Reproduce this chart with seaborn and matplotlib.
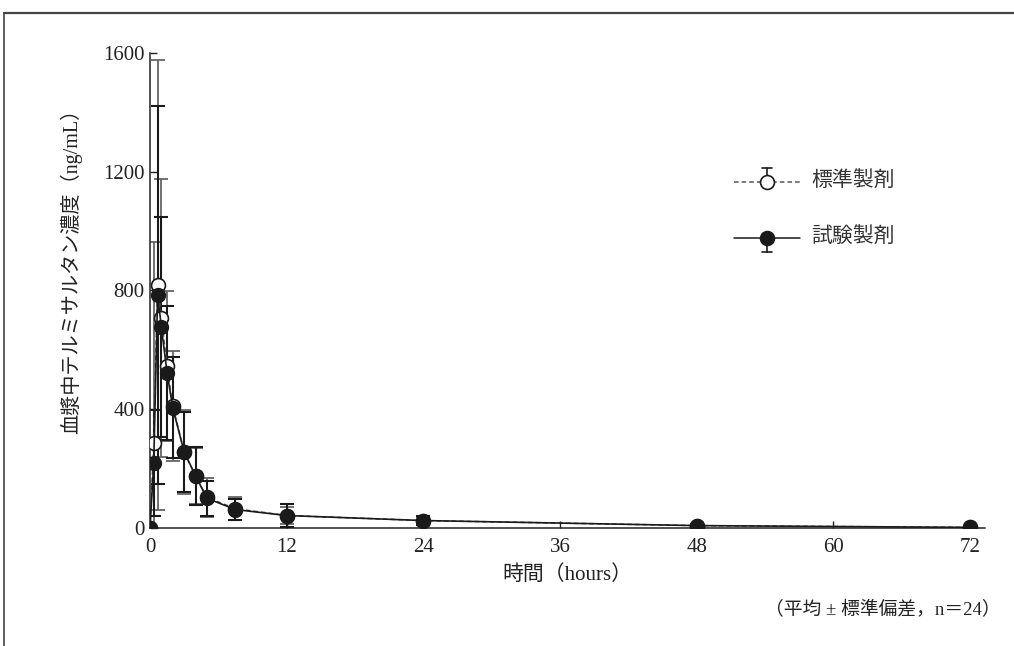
import numpy as np
import pandas as pd
import seaborn as sns
import matplotlib
matplotlib.use("Agg")
import matplotlib.pyplot as plt
from matplotlib.lines import Line2D

# ---- data ----
time_h = [0, 0.33, 0.67, 1, 1.5, 2, 3, 4, 5, 7.5, 12, 24, 48, 72]
ref_mean = [0, 286, 818, 707, 545, 410, 256, 176, 103, 65, 42, 25, 8, 2]
ref_sd = [0, 676, 758, 467, 253, 186, 140, 95, 65, 38, 27, 12, 5, 2]
test_mean = [0, 219, 785, 677, 523, 405, 256, 176, 100, 62, 42, 25, 8, 2]
test_sd = [0, 180, 636, 371, 225, 170, 135, 97, 58, 34, 40, 15, 6, 2]
ref_label = "標準製剤"
test_label = "試験製剤"
x_ticks = [0, 12, 24, 36, 48, 60, 72]
y_ticks = [0, 400, 800, 1200, 1600]

sns.set_theme(style="ticks")
plt.rcParams["font.family"] = ["Liberation Serif", "Noto Sans CJK JP"]
plt.rcParams["axes.unicode_minus"] = False

fig = plt.figure(figsize=(10.14, 6.46), dpi=100)
ax = fig.add_axes([0.1479, 0.1827, 0.8235, 0.7353])

# error bars
ax.errorbar(time_h, ref_mean, yerr=ref_sd, fmt="none", ecolor="#666666",
            elinewidth=1.3, capsize=5, capthick=1.3, zorder=2)
ax.errorbar(time_h, test_mean, yerr=test_sd, fmt="none", ecolor="#1a1a1a",
            elinewidth=1.5, capsize=5, capthick=1.5, zorder=3)

# lines + markers
sns.lineplot(x=time_h, y=ref_mean, ax=ax, color="#555555", linestyle=(0, (3, 2)),
             linewidth=1.1, marker="o", markersize=10, markerfacecolor="white",
             markeredgecolor="#1a1a1a", markeredgewidth=1.2, zorder=4, legend=False)
sns.lineplot(x=time_h, y=test_mean, ax=ax, color="#1a1a1a", linestyle="-",
             linewidth=1.2, marker="o", markersize=10, markerfacecolor="#1a1a1a",
             markeredgecolor="#1a1a1a", markeredgewidth=1.0, zorder=5, legend=False)

ax.set_xlim(0, 73.3)
ax.set_ylim(0, 1600)
ax.set_xticks(x_ticks)
ax.set_yticks(y_ticks)
ax.tick_params(direction="in", length=5, width=1, labelsize=15, colors="#222222")
ax.tick_params(axis="x", pad=7)
ax.tick_params(axis="y", pad=4)
for s in ["top", "right"]:
    ax.spines[s].set_visible(False)
for s in ["left", "bottom"]:
    ax.spines[s].set_color("#222222")
    ax.spines[s].set_linewidth(1.1)

ax.set_xlabel("時間（hours）", fontsize=15, labelpad=6, color="#222222")
ax.set_ylabel("血漿中テルミサルタン濃度（ng/mL）", fontsize=14.5, color="#222222")
ax.yaxis.set_label_coords(-0.081, 0.55)

# legend (manual)
tr = ax.transAxes
for (ymid, face, ls, col, cap_dir, lab) in [
        (0.728, "white", (0, (3, 2)), "#555555", 1, ref_label),
        (0.611, "#1a1a1a", "-", "#1a1a1a", -1, test_label)]:
    ax.add_line(Line2D([0.70, 0.778], [ymid, ymid], transform=tr, color=col,
                       linestyle=ls, linewidth=1.1, clip_on=False, zorder=6))
    ycap = ymid + cap_dir * 0.030
    ax.add_line(Line2D([0.739, 0.739], [ymid, ycap], transform=tr, color="#1a1a1a",
                       linewidth=1.2, clip_on=False, zorder=6))
    ax.add_line(Line2D([0.733, 0.745], [ycap, ycap], transform=tr, color="#1a1a1a",
                       linewidth=1.2, clip_on=False, zorder=6))
    ax.add_line(Line2D([0.739], [ymid], transform=tr, marker="o", markersize=10,
                       markerfacecolor=face, markeredgecolor="#1a1a1a",
                       markeredgewidth=1.2, linestyle="none", clip_on=False, zorder=7))
    ax.text(0.792, ymid, lab, transform=tr, fontsize=15, va="center", ha="left",
            color="#333333")

fig.text(0.987, 0.055, "（平均 ± 標準偏差，n＝24）", fontsize=13.5, ha="right",
         va="center", color="#222222")

# page frame (top and left)
fig.add_artist(Line2D([0.004, 1.0], [0.980, 0.980], transform=fig.transFigure,
                      color="#444444", linewidth=1.6))
fig.add_artist(Line2D([0.004, 0.004], [0.0, 0.980], transform=fig.transFigure,
                      color="#444444", linewidth=1.2))

fig.savefig("out.png", dpi=100)
